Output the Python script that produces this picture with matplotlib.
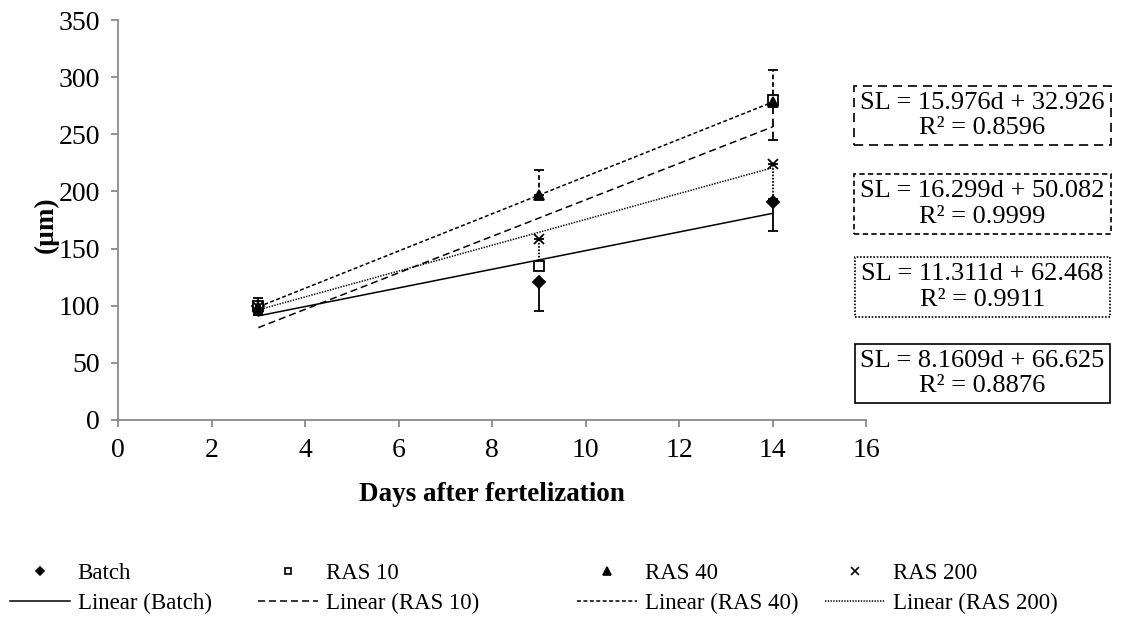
import matplotlib
matplotlib.use("Agg")
import matplotlib.pyplot as plt
from matplotlib.lines import Line2D
import numpy as np

plt.rcParams["font.family"] = ["Liberation Serif", "DejaVu Serif"]

days = [3, 9, 14]
series_names = ["Batch", "RAS 10", "RAS 40", "RAS 200"]

batch = [100, 121, 191]
ras10 = [100, 134.6, 279.6]
ras40 = [99, 196.8, 278.3]
ras200 = [99, 158.8, 223.7]

# error bars as drawn (lower, upper)
batch_err = [[8, 26, 26], [0, 0, 0]]
ras10_err = [[8, 3, 35], [0, 3, 0]]
ras40_err = [[0, 0, 0], [8, 22, 28]]
ras200_err = [[5, 22, 30], [0, 0, 0]]

# trend line coefficients printed on the chart
slopes = [8.1609, 15.976, 16.299, 11.311]
intercepts = [66.625, 32.926, 50.082, 62.468]
r_squared = ["0.8876", "0.8596", "0.9999", "0.9911"]

x_ticks = list(range(0, 17, 2))
y_ticks = list(range(0, 351, 50))

values = [batch, ras10, ras40, ras200]
errors = [batch_err, ras10_err, ras40_err, ras200_err]
markers = ["D", "s", "^", "x"]
marker_sizes = [6, 6.5, 7.5, 7]
face = ["black", "white", "black", "black"]
lw = 1.1
styles = ["-", (0, (4.6, 2.6)), (0, (2.6, 1.6)), (0, (0.9, 0.9))]

fig = plt.figure(figsize=(11.37, 6.18), dpi=100)
ax = fig.add_axes([0.1038, 0.3204, 0.6582, 0.6472])

for i in range(4):
    m, b = slopes[i], intercepts[i]
    d = np.array([days[0], days[-1]])
    ax.plot(d, m * d + b, color="black", lw=lw, linestyle=styles[i], zorder=2)

for i in range(4):
    eb = ax.errorbar(days, values[i], yerr=errors[i], fmt="none", ecolor="black",
                     elinewidth=1.3, capsize=3.8, capthick=1.3, zorder=3)
    eb[2][0].set_linestyle(styles[i])
    ax.plot(days, values[i], linestyle="none", marker=markers[i],
            markersize=marker_sizes[i], markerfacecolor=face[i],
            markeredgecolor="black", markeredgewidth=1.3, zorder=4 + i)

ax.set_xlim(0, 16)
ax.set_ylim(0, 350)
ax.set_xticks(x_ticks)
ax.set_yticks(y_ticks)
for s in ["top", "right"]:
    ax.spines[s].set_visible(False)
for s in ["left", "bottom"]:
    ax.spines[s].set_color("#898989")
    ax.spines[s].set_linewidth(1.3)
ax.tick_params(axis="both", direction="out", length=5, width=1.3,
               color="#898989", labelsize=20, pad=8)
ax.tick_params(axis="y", pad=8)

fig.text(0.4327, 0.2005, "Days after fertelization", ha="center", va="center",
         fontsize=19.5, fontweight="bold")
fig.text(0.0405, 0.636, "(µm)", ha="center", va="center", rotation=90,
         fontsize=19.5, fontweight="bold")

# equation boxes, top to bottom: RAS 10, RAS 40, RAS 200, Batch
box_order = [1, 2, 3, 0]
box_y = [115.5, 204, 287, 373.5]
box_styles = [(0, (5.5, 3.5)), (0, (3.2, 2.0)), (0, (1, 1)), "-"]
for k, i in enumerate(box_order):
    txt = f"SL = {slopes[i]}d + {intercepts[i]}\nR² = {r_squared[i]}"
    fig.text(982.5 / 1137, 1 - box_y[k] / 618, txt, ha="center", va="center",
             ma="center", fontsize=19, linespacing=1.2,
             bbox=dict(boxstyle="square,pad=0.22", fc="white", ec="black",
                       lw=1.2, ls=box_styles[k]))

# legend: four columns placed like the original
col_x = [10, 258, 577, 825]
leg_marker_sizes = [4.5, 5, 5.5, 5.5]
for i in range(4):
    h_mark = Line2D([], [], linestyle="none", marker=markers[i],
                    markersize=leg_marker_sizes[i], markerfacecolor=face[i],
                    markeredgecolor="black", markeredgewidth=1.2)
    h_line = Line2D([], [], color="black", lw=lw, linestyle=styles[i])
    fig.legend([h_mark, h_line], [series_names[i], f"Linear ({series_names[i]})"],
               loc="center left", bbox_to_anchor=(col_x[i] / 1137, 1 - 588.5 / 618),
               frameon=False, fontsize=16.5, handlelength=2.6, handletextpad=0.35,
               labelspacing=0.35, borderpad=0, borderaxespad=0)

fig.savefig("out.png", dpi=100)
